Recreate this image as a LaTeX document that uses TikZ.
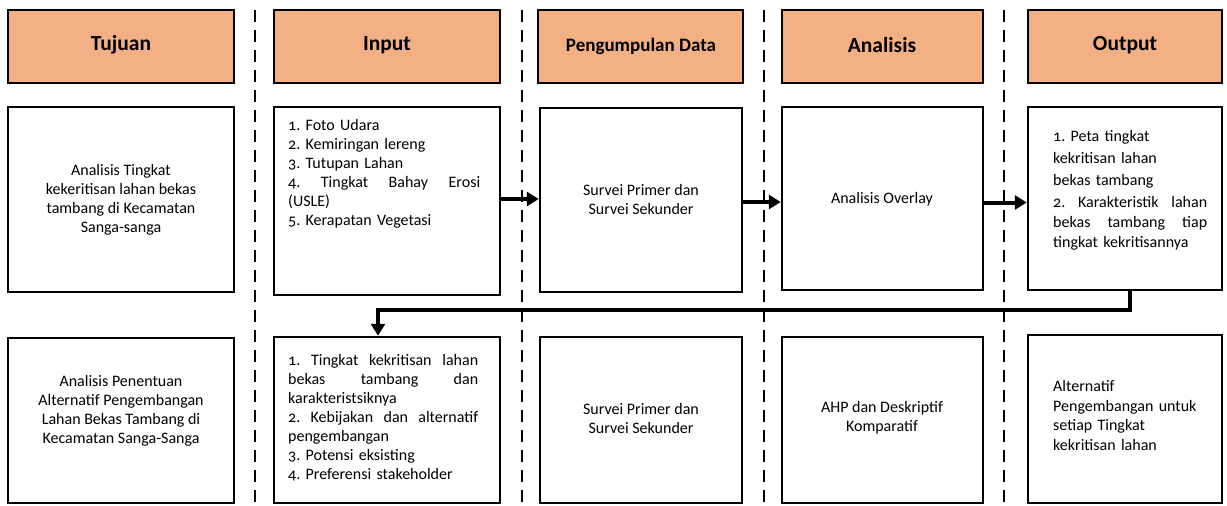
\documentclass[tikz,border=0pt]{standalone}
\usepackage{fontspec}
\setmainfont{Carlito}[Numbers=OldStyle]
\usetikzlibrary{arrows.meta,fit}
\definecolor{peach}{RGB}{243,176,132}
\newcommand\jline[2]{\leavevmode\hbox to #1{#2}}
\begin{document}
\frenchspacing
\begin{tikzpicture}[x=1pt,y=-1pt,
  hdr/.style={draw, line width=2.5pt, fill=peach, inner sep=0pt},
  htxt/.style={inner sep=0pt, font=\fontsize{21.5}{24}\selectfont\bfseries},
  box/.style={draw, line width=2.5pt, fill=white, inner sep=0pt},
  txt/.style={inner sep=0pt, font=\fontsize{16}{19}\selectfont\frenchspacing},
  ctxt/.style={txt, align=center},
  ltxt/.style={txt, align=left, anchor=north west},
  dline/.style={line width=2.6pt, dash pattern=on 12pt off 8pt},
  conn/.style={line width=4pt, -{Triangle[length=12pt,width=14pt]}}]
\useasboundingbox (0,0) rectangle (1227,506);
% dashed column separators
\draw[dline] (255,10) -- (255,506);
\draw[dline] (522,10) -- (522,506);
\draw[dline] (764,10) -- (764,506);
\draw[dline] (1004,10) -- (1004,506);
% headers
\node[hdr, fit={(8,10) (234,83)}] (h1) {};
\node[hdr, fit={(274,10) (500,83)}] (h2) {};
\node[hdr, fit={(538,10) (743,83)}] (h3) {};
\node[hdr, fit={(782,10) (983,83)}] (h4) {};
\node[hdr, fit={(1028,10) (1222,83)}] (h5) {};
\node[htxt] (th1) at (121,45) {Tujuan};
\node[htxt] (th2) at (387,45) {Input};
\node[htxt, font=\fontsize{19}{22}\selectfont\bfseries] (th3) at (641,46) {Pengumpulan Data};
\node[htxt] (th4) at (882,45) {Analisis};
\node[htxt] (th5) at (1125,45) {Output};
% row 1
\node[box, fit={(8,107) (234,292)}] (tj1) {};
\node[box, fit={(274,107) (500,295)}] (in1) {};
\node[box, fit={(540,108) (742,292)}] (pg1) {};
\node[box, fit={(782,107) (983,290)}] (an1) {};
\node[box, fit={(1028,107) (1222,290)}] (out1) {};
% row 2
\node[box, fit={(8,338) (234,503)}] (tj2) {};
\node[box, fit={(274,337) (500,503)}] (in2) {};
\node[box, fit={(540,337) (742,503)}] (pg2) {};
\node[box, fit={(782,337) (983,503)}] (an2) {};
\node[box, fit={(1028,335) (1222,503)}] (out2) {};
% texts row 1
\node[ctxt] (ttj1) at (121,200) {Analisis Tingkat\\ kekeritisan lahan bekas\\ tambang di Kecamatan\\ Sanga-sanga};
\node[ltxt, text width=192pt] (tin1) at (288,119.5) {1. Foto Udara\\ 2. Kemiringan lereng\\ 3. Tutupan Lahan\\ \jline{192pt}{4.\hfill Tingkat\hfill Bahay\hfill Erosi}\\ (USLE)\\ 5. Kerapatan Vegetasi};
\node[ctxt] (tpg1) at (641,200) {Survei Primer dan\\ Survei Sekunder};
\node[ctxt] (tan1) at (882,199) {Analisis Overlay};
\node[ltxt, text width=154pt] (tout1) at (1053,130) {1. Peta tingkat\\[3pt] kekritisan lahan\\[3pt] bekas tambang\\[3pt] \jline{154pt}{2.\hfill Karakteristik\hfill lahan}\\[1pt] \jline{154pt}{bekas\hfill tambang\hfill tiap}\\[1pt] tingkat kekritisannya};
% texts row 2
\node[ctxt] (ttj2) at (121,411) {Analisis Penentuan\\ Alternatif Pengembangan\\ Lahan Bekas Tambang di\\ Kecamatan Sanga-Sanga};
\node[ltxt, text width=190pt] (tin2) at (288,354.5) {\jline{190pt}{1.\hfill Tingkat\hfill kekritisan\hfill lahan}\\ \jline{190pt}{bekas\hfill tambang\hfill dan}\\ karakteristsiknya\\ \jline{190pt}{2.\hfill Kebijakan\hfill dan\hfill alternatif}\\ pengembangan\\ 3. Potensi eksisting\\ 4. Preferensi stakeholder};
\node[ctxt] (tpg2) at (641,418) {Survei Primer dan\\ Survei Sekunder};
\node[ctxt] (tan2) at (882,418) {AHP dan Deskriptif\\ Komparatif};
\node[ltxt, text width=170pt] (tout2) at (1053,380.5) {Alternatif\\[0.5pt] Pengembangan untuk\\[0.5pt] setiap Tingkat\\[0.5pt] kekritisan lahan};
% connectors
\draw[conn] ([yshift=2pt]in1.east) -- ([yshift=2pt]in1.east -| pg1.west);
\draw[conn] ([yshift=-2pt]pg1.east) -- ([yshift=-2pt]pg1.east -| an1.west);
\draw[conn] ([yshift=-4pt]an1.east) -- ([yshift=-4pt]an1.east -| out1.west);
\coordinate (fbk) at (378,310);
\draw[line width=4pt] ([xshift=5pt]out1.south) |- (fbk);
\draw[conn] ([yshift=2pt]fbk) -- (fbk |- in2.north);
\end{tikzpicture}
\end{document}
